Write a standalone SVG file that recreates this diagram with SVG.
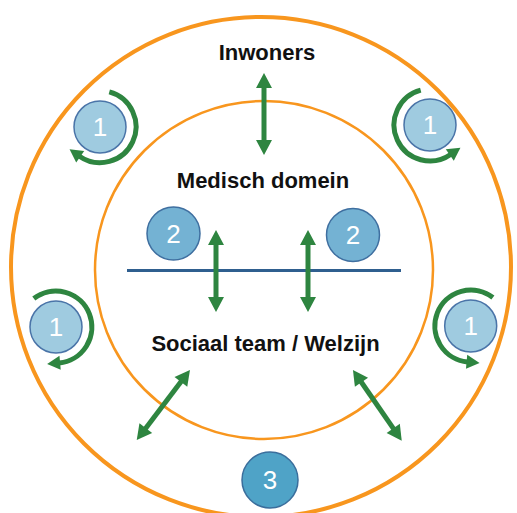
<svg xmlns="http://www.w3.org/2000/svg" width="517" height="513" viewBox="0 0 517 513">
<style>
.ring{fill:none;stroke:#F8961E}
.lbl{font-family:"Liberation Sans",Arial,sans-serif;font-weight:bold;font-size:22px;fill:#111;text-anchor:middle}
.num{font-family:"Liberation Sans",Arial,sans-serif;font-size:26px;fill:#fff;text-anchor:middle}
.c1{fill:#9FCBE0;stroke:#4A74A8;stroke-width:1.5}
.c2{fill:#74B2D3;stroke:#3F6FA0;stroke-width:1.5}
.c3{fill:#4FA3C7;stroke:#3A6E9C;stroke-width:1.5}
.dbl{stroke:#2E8540;stroke-width:5;fill:none;marker-start:url(#ah);marker-end:url(#ah)}
.cyc{stroke:#2E8540;stroke-width:5;fill:none;marker-end:url(#ahs)}
</style>
<defs>
<marker id="ah" markerUnits="userSpaceOnUse" markerWidth="20" markerHeight="20" refX="1" refY="8" orient="auto-start-reverse" overflow="visible"><path d="M0,0 L15,8 L0,16 Z" fill="#2E8540"/></marker>
<marker id="ahs" markerUnits="userSpaceOnUse" markerWidth="16" markerHeight="16" refX="1" refY="7" orient="auto" overflow="visible"><path d="M0,0 L13,7 L0,14 Z" fill="#2E8540"/></marker>
</defs>
<rect width="517" height="513" fill="#fff"/>
<g id="outer-ring"><circle class="ring" cx="261" cy="267" r="250" stroke-width="4"/></g>
<g id="inner-ring"><circle class="ring" cx="264" cy="270" r="169" stroke-width="2.5"/></g>
<g id="divider"><line x1="127" y1="270.5" x2="401" y2="270.5" stroke="#2F5F8F" stroke-width="3"/></g>
<g id="connectors">
<line class="dbl" x1="264" y1="87" x2="264" y2="141"/>
<line class="dbl" x1="216" y1="244" x2="216" y2="298"/>
<line class="dbl" x1="308" y1="244" x2="308" y2="298"/>
<line class="dbl" x1="145.2" y1="428.9" x2="181.5" y2="381.1"/>
<line class="dbl" x1="360.9" y1="381.5" x2="393.8" y2="429.2"/>
<path class="cyc" d="M109.3 91.9 A36 36 0 1 1 79.4 156.2"/>
<path class="cyc" d="M420.7 90.2 A36 36 0 1 0 450.6 154.5"/>
<path class="cyc" d="M33.8 298.6 A36 36 0 1 1 59.1 362.9"/>
<path class="cyc" d="M492.9 297.6 A36 36 0 1 0 467.6 361.9"/>
</g>
<g id="inwoners"><text class="lbl" x="267" y="60">Inwoners</text></g>
<g id="medisch-domein"><text class="lbl" x="263" y="188">Medisch domein</text></g>
<g id="sociaal-team"><text class="lbl" x="265.5" y="351">Sociaal team / Welzijn</text></g>
<g id="n1-tl"><circle class="c1" cx="100" cy="127" r="26"/><text class="num" x="100" y="136">1</text></g>
<g id="n1-tr"><circle class="c1" cx="430" cy="125" r="26"/><text class="num" x="430" y="134">1</text></g>
<g id="n1-bl"><circle class="c1" cx="56" cy="327" r="26"/><text class="num" x="56" y="336">1</text></g>
<g id="n1-br"><circle class="c1" cx="470.7" cy="326" r="26"/><text class="num" x="470.7" y="335">1</text></g>
<g id="n2-l"><circle class="c2" cx="173.5" cy="233.5" r="26.5"/><text class="num" x="173.5" y="242.5">2</text></g>
<g id="n2-r"><circle class="c2" cx="353" cy="235" r="26.5"/><text class="num" x="353" y="244">2</text></g>
<g id="n3"><circle class="c3" cx="270" cy="480" r="28"/><text class="num" x="270" y="489">3</text></g>
</svg>
